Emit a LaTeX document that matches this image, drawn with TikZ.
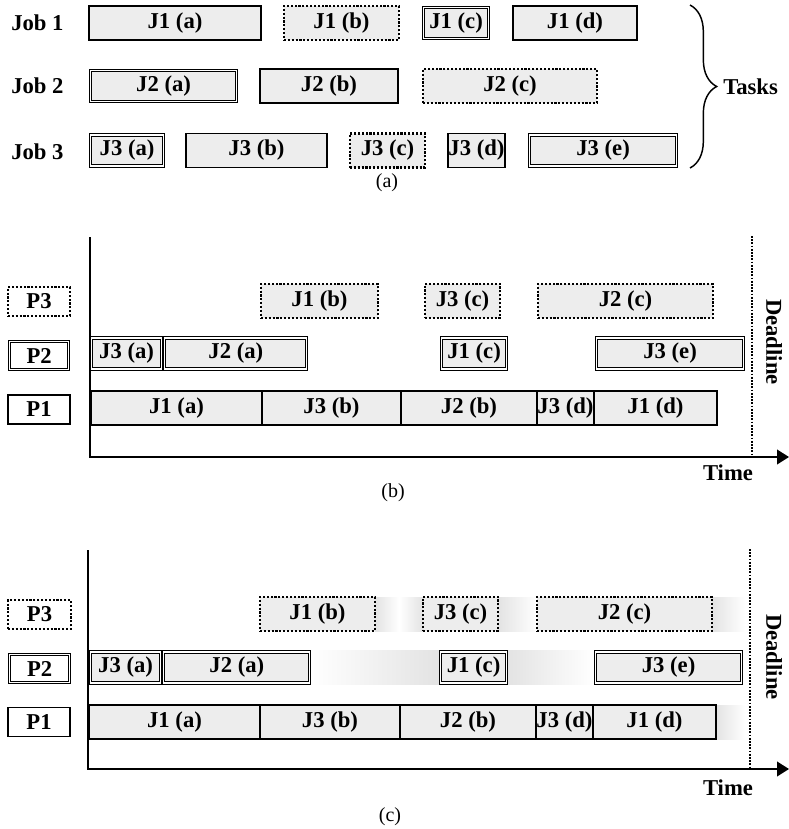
\documentclass[tikz,border=0pt]{standalone}
\usepackage{fontspec}
\setmainfont{Liberation Serif}
\usetikzlibrary{positioning, arrows.meta, backgrounds, decorations.pathreplacing}

\begin{document}
\begin{tikzpicture}[
      x=0.75pt, y=-0.75pt,
      every node/.style={font=\fontsize{17}{20}\selectfont\bfseries, inner sep=0pt},
      tw/.style={minimum width=#1*0.75pt},
      task/.style={fill=gray!14, minimum height=25.5pt, anchor=west},
      p1box/.style={task, draw, line width=1.3pt, outer sep=0pt},
      p2box/.style={task, draw, double, line width=0.75pt, double distance=0.9pt,
                    outer sep=1.2pt, minimum height=23.25pt},
      p3box/.style={task, draw, line width=1.6pt, dash pattern=on 1.6pt off 1.3pt, outer sep=0pt},
      proc/.style={fill=white, minimum height=21.75pt},
      idle/.style={left color=gray!22, right color=white},
      caption/.style={font=\fontsize{15}{18}\selectfont},
      axis/.style={line width=1.4pt},
      deadline/.style={line width=1.3pt, dash pattern=on 1.3pt off 1.1pt},
   ]
   \useasboundingbox (0,0) rectangle (789,829);

   % (a) tasks of each job
   \node[anchor=west] (job1) at (11,23) {Job 1};
   \node[anchor=west] (job2) at (11,86) {Job 2};
   \node[anchor=west] (job3) at (11,152) {Job 3};

   \node[p1box, tw=172] (j1a) at (89,23) {J1 (a)};
   \node[p3box, tw=115] (j1b) at (284,23) {J1 (b)};
   \node[p2box, tw=65] (j1c) at (422,23) {J1 (c)};
   \node[p1box, tw=124] (j1d) at (513,23) {J1 (d)};

   \node[p2box, tw=146] (j2a) at (89,86) {J2 (a)};
   \node[p1box, tw=138] (j2b) at (260,86) {J2 (b)};
   \node[p3box, tw=174] (j2c) at (423,86) {J2 (c)};

   \node[p2box, tw=73] (j3a) at (89,150.5) {J3 (a)};
   \node[p1box, tw=141] (j3b) at (186,150.5) {J3 (b)};
   \node[p3box, tw=75] (j3c) at (350,150.5) {J3 (c)};
   \node[p1box, tw=57] (j3d) at (448,150.5) {J3 (d)};
   \node[p2box, tw=147] (j3e) at (528,150.5) {J3 (e)};

   \coordinate (brtop) at (690,5);
   \coordinate (brbot) at (690,168);
   \draw[decorate, decoration={brace, amplitude=20pt}, line width=1.1pt] (brtop) -- (brbot);
   \node[anchor=west] (tasks) at (723,87) {Tasks};
   \node[caption] (capa) at (387,183) {(a)};

   % (b) schedule
   \node[p3box, proc, tw=62] (b-p3) at (8,301.5) {P3};
   \node[p2box, proc, tw=59, minimum height=20.5pt] (b-p2) at (8,355.5) {P2};
   \node[p1box, proc, tw=62] (b-p1) at (8,409.5) {P1};

   \coordinate (b-top) at (90,237);
   \coordinate (b-o) at (90,457);
   \coordinate (b-end) at (789,457);
   \draw[axis, -{Triangle[length=9pt, width=11pt]}] (b-top) -- (b-o) -- (b-end);

   \node[p3box, tw=117] (b-j1b) at (261,301) {J1 (b)};
   \node[p3box, tw=75] (b-j3c) at (425,301) {J3 (c)};
   \node[p3box, tw=175] (b-j2c) at (538,301) {J2 (c)};

   \node[p2box, tw=70] (b-j3a) at (90,353.5) {J3 (a)};
   \node[p2box, tw=142, right=0pt of b-j3a] (b-j2a) {J2 (a)};
   \node[p2box, tw=65] (b-j1c) at (440,353.5) {J1 (c)};
   \node[p2box, tw=147] (b-j3e) at (595,353.5) {J3 (e)};

   \node[p1box, tw=171] (b-j1a) at (91,408) {J1 (a)};
   \node[p1box, tw=139, right=0pt of b-j1a] (b-j3b) {J3 (b)};
   \node[p1box, tw=136, right=0pt of b-j3b] (b-j2b) {J2 (b)};
   \node[p1box, tw=57, right=0pt of b-j2b] (b-j3d) {J3 (d)};
   \node[p1box, tw=123, right=0pt of b-j3d] (b-j1d) {J1 (d)};

   \coordinate (b-dtop) at (752,236);
   \coordinate (b-dbot) at (752,454);
   \draw[deadline] (b-dtop) -- (b-dbot);
   \node[rotate=-90] (b-deadline) at (774,342) {Deadline};
   \node (b-time) at (728,473) {Time};
   \node[caption] (capb) at (393,493) {(b)};

   % (c) schedule with idle slots
   \node[p3box, proc, tw=63] (c-p3) at (8,614.5) {P3};
   \node[p2box, proc, tw=60, minimum height=21.5pt] (c-p2) at (8,668.5) {P2};
   \node[p1box, proc, tw=62] (c-p1) at (8,722) {P1};

   \coordinate (c-top) at (88,550);
   \coordinate (c-o) at (88,769);
   \coordinate (c-end) at (789,769);
   \draw[axis, -{Triangle[length=9pt, width=11pt]}] (c-top) -- (c-o) -- (c-end);

   \node[p3box, tw=115] (c-j1b) at (260,614) {J1 (b)};
   \node[p3box, tw=75] (c-j3c) at (423,614) {J3 (c)};
   \node[p3box, tw=175] (c-j2c) at (537,614) {J2 (c)};

   \node[p2box, tw=70] (c-j3a) at (89,667.5) {J3 (a)};
   \node[p2box, tw=146, right=0pt of c-j3a] (c-j2a) {J2 (a)};
   \node[p2box, tw=66] (c-j1c) at (439,667.5) {J1 (c)};
   \node[p2box, tw=146] (c-j3e) at (594,667.5) {J3 (e)};

   \node[p1box, tw=171] (c-j1a) at (89,722) {J1 (a)};
   \node[p1box, tw=140, right=0pt of c-j1a] (c-j3b) {J3 (b)};
   \node[p1box, tw=136, right=0pt of c-j3b] (c-j2b) {J2 (b)};
   \node[p1box, tw=57, right=0pt of c-j2b] (c-j3d) {J3 (d)};
   \node[p1box, tw=123, right=0pt of c-j3d] (c-j1d) {J1 (d)};

   \begin{scope}[on background layer]
      \shade[left color=gray!22, right color=gray!22, middle color=white]
         (c-j1b.north east) rectangle (c-j3c.south west);
      \shade[idle] (c-j3c.north east) rectangle (c-j2c.south west);
      \shade[idle] (c-j2c.north east) rectangle ++(33,34);
      \shade[left color=white, right color=gray!22] (c-j2a.north east) rectangle (c-j1c.south west);
      \shade[idle] (c-j1c.north east) rectangle (c-j3e.south west);
      \shade[idle] (c-j1d.north east) rectangle ++(29,34);
   \end{scope}

   \coordinate (c-dtop) at (750,549);
   \coordinate (c-dbot) at (750,767);
   \draw[deadline] (c-dtop) -- (c-dbot);
   \node[rotate=-90] (c-deadline) at (774,657) {Deadline};
   \node (c-time) at (728,788) {Time};
   \node[caption] (capc) at (390,817) {(c)};
\end{tikzpicture}
\end{document}
